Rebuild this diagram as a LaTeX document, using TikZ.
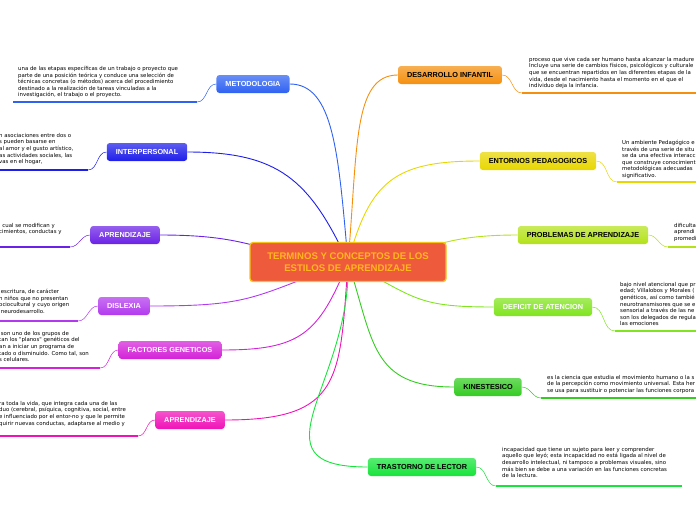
\documentclass[tikz,border=0pt]{standalone}
\usepackage{fontspec}
\setmainfont{Liberation Sans}
\newfontfamily\notefont{DejaVu Sans}
\usetikzlibrary{positioning}
\definecolor{hubfill}{HTML}{EE5A3C}
\definecolor{hubline}{HTML}{F7C21A}
\definecolor{hubtext}{HTML}{FFB81C}
\definecolor{metodblue}{HTML}{2F62F2}
\definecolor{interblue}{HTML}{1E1EEA}
\definecolor{aprendviolet}{HTML}{6B22E6}
\definecolor{dislexpurple}{HTML}{B23AEE}
\definecolor{factormagenta}{HTML}{D422D8}
\definecolor{aprendpink}{HTML}{F012B8}
\definecolor{desarrorange}{HTML}{F5900F}
\definecolor{entornyellow}{HTML}{E8D600}
\definecolor{problemlime}{HTML}{B4E21A}
\definecolor{deficitgreen}{HTML}{80E41E}
\definecolor{kinesgreen}{HTML}{34CC22}
\definecolor{trastgreen}{HTML}{16E43A}
\pgfdeclarelayer{background}
\pgfsetlayers{background,main}

\begin{document}
\begin{tikzpicture}[x=1pt,y=-1pt,
  branch/.style={rounded corners=3pt, minimum height=18pt, inner xsep=9pt, inner ysep=0pt,
    top color=#1!72!white, bottom color=#1, font=\fontsize{7.3}{8}\selectfont\bfseries, text=white},
  hubnode/.style={rounded corners=3pt, fill=hubfill, draw=hubline, line width=1.3pt,
    minimum width=196pt, minimum height=39pt, align=center, text=hubtext,
    font=\fontsize{9.6}{11.5}\selectfont\bfseries},
  note/.style={anchor=north west, align=left, inner sep=0pt,
    font=\notefont\fontsize{5.4}{6.6}\selectfont},
  link/.style={line width=0.9pt, looseness=1.3},
  uline/.style={line width=2.4pt},
  tail/.style={line width=0.5pt}]
\useasboundingbox (0,0) rectangle (696,520);

% centre
\node (hub) [hubnode] at (348,262) {TERMINOS Y CONCEPTOS DE LOS\\ESTILOS DE APRENDIZAJE};

% left branches
\node (metod) [branch=metodblue] at (253,84) {METODOLOGIA};
\node (inter) [branch=interblue] at (147,152) {INTERPERSONAL};
\node (aprendA) [branch=aprendviolet] at (125,235) {APRENDIZAJE};
\node (dislex) [branch=dislexpurple] at (124,306) {DISLEXIA};
\node (factor) [branch=factormagenta] at (170,350) {FACTORES GENETICOS};
\node (aprendB) [branch=aprendpink] at (190,420) {APRENDIZAJE};

% right branches
\node (desarr) [branch=desarrorange, text=black] at (450,75) {DESARROLLO INFANTIL};
\node (entorn) [branch=entornyellow, text=black] at (538,161) {ENTORNOS PEDAGOGICOS};
\node (problem) [branch=problemlime, text=black] at (583,235) {PROBLEMAS DE APRENDIZAJE};
\node (deficit) [branch=deficitgreen] at (543,307) {DEFICIT DE ATENCION};
\node (kines) [branch=kinesgreen, text=black] at (488,387) {KINESTESICO};
\node (trast) [branch=trastgreen, text=black] at (422,467) {TRASTORNO DE LECTOR};

% notes
\node (metodtxt) [note] at (18,66) {una de las etapas específicas de un trabajo o proyecto que\\parte de una posición teórica y conduce una selección de\\técnicas concretas (o métodos) acerca del procedimiento\\destinado a la realización de tareas vinculadas a la\\investigación, el trabajo o el proyecto.};
\node (intertxt) [note] at (-1,133) {n asociaciones entre dos o\\s pueden basarse en\\al amor y el gusto artístico,\\as actividades sociales, las\\vas en el hogar,};
\node (aprendAtxt) [note] at (-1,223) {l cual se modifican y\\cimientos, conductas y};
\node (dislextxt) [note] at (-1,289) {\ escritura, de carácter\\n niños que no presentan\\ociocultural y cuyo origen\\\ neurodesarrollo.};
\node (factortxt) [note] at (-1,331) {\ son uno de los grupos de\\tan los "planos" genéticos del\\an a iniciar un programa de\\tado o disminuido. Como tal, son\\s celulares.};
\node (aprendBtxt) [note] at (-1,401) {ra toda la vida, que integra cada una de las\\duo (cerebral, psíquica, cognitiva, social, entre\\e influenciado por el entor-no y que le permite\\quirir nuevas conductas, adaptarse al medio y};
\node (desarrtxt) [note] at (529,57) {proceso que vive cada ser humano hasta alcanzar la madure\\Incluye una serie de cambios físicos, psicológicos y culturale\\que se encuentran repartidos en las diferentes etapas de la\\vida, desde el nacimiento hasta el momento en el que el\\individuo deja la infancia.};
\node (entorntxt) [note] at (622,140) {Un ambiente Pedagógico e\\través de una serie de situ\\se da una efectiva interacc\\que construye conocimient\\metodológicas adecuadas\\significativo.};
\node (problemtxt) [note] at (674,223) {dificulta\\aprendi\\promedi};
\node (deficittxt) [note] at (620,282) {bajo nivel atencional que pr\\edad; Villalobos y Morales (\\genéticos, así como tambié\\neurotransmisores que se e\\sensorial a través de las ne\\son los delegados de regula\\las emociones};
\node (kinestxt) [note] at (547,375) {es la ciencia que estudia el movimiento humano o la s\\de la percepción como movimiento universal. Esta her\\se usa para sustituir o potenciar las funciones corpora};
\node (trasttxt) [note] at (502,447) {incapacidad que tiene un sujeto para leer y comprender\\aquello que leyó; esta incapacidad no está ligada al nivel de\\desarrollo intelectual, ni tampoco a problemas visuales, sino\\más bien se debe a una variación en las funciones concretas\\de la lectura.};

% underline ends
\coordinate (metodu) at (197,102);
\coordinate (interu) at (88,170);
\coordinate (aprendAu) at (70,247);
\coordinate (dislexu) at (78,321);
\coordinate (factoru) at (100,368);
\coordinate (aprendBu) at (138,436);
\coordinate (desarru) at (522,93);
\coordinate (entornu) at (617,182);
\coordinate (problemu) at (668,247);
\coordinate (deficitu) at (615,331);
\coordinate (kinesu) at (541,398);
\coordinate (trastu) at (496,486);

\begin{pgfonlayer}{background}
% centre to branches
\draw[link, metodblue] (hub.center) to[out=95, in=0, out looseness=1.5, in looseness=0.6] (metod.east);
\draw[link, interblue] (hub.center) to[out=115, in=0, looseness=1.2] (inter.east);
\draw[link, aprendviolet] (hub.center) to[out=175, in=0] (aprendA.east);
\draw[link, dislexpurple] (hub.center) to[out=200, in=0] (dislex.east);
\draw[link, factormagenta] (hub.center) to[out=248, in=0] (factor.east);
\draw[link, aprendpink] (hub.center) to[out=266, in=0, looseness=1.5] (aprendB.east);
\draw[link, desarrorange] (hub.center) to[out=85, in=180, out looseness=1.5, in looseness=0.6] (desarr.west);
\draw[link, entornyellow] (hub.center) to[out=75, in=180] (entorn.west);
\draw[link, problemlime] (hub.center) to[out=5, in=180] (problem.west);
\draw[link, deficitgreen] (hub.center) to[out=-28, in=180] (deficit.west);
\draw[link, kinesgreen] (hub.center) to[out=-72, in=180] (kines.west);
\draw[link, trastgreen] (hub.center) to[out=-88, in=180, looseness=1.5] (trast.west);
\end{pgfonlayer}

% branches to notes
\draw[tail, metodblue] (metod.west) to[out=180, in=0] (metodu);
\draw[tail, interblue] (inter.west) to[out=180, in=0] (interu);
\draw[tail, aprendviolet] (aprendA.west) to[out=180, in=0] (aprendAu);
\draw[tail, dislexpurple] (dislex.west) to[out=180, in=0] (dislexu);
\draw[tail, factormagenta] (factor.west) to[out=180, in=0] (factoru);
\draw[tail, aprendpink] (aprendB.west) to[out=180, in=0] (aprendBu);
\draw[tail, desarrorange] (desarr.east) to[out=0, in=180] (desarru);
\draw[tail, entornyellow] (entorn.east) to[out=0, in=180] (entornu);
\draw[tail, problemlime] (problem.east) to[out=0, in=180] (problemu);
\draw[tail, deficitgreen] (deficit.east) to[out=0, in=180] (deficitu);
\draw[tail, kinesgreen] (kines.east) to[out=0, in=180] (kinesu);
\draw[tail, trastgreen] (trast.east) to[out=0, in=180] (trastu);

% underlines
\draw[uline, metodblue] (13,102) -- (metodu);
\draw[uline, interblue] (-2,170) -- (interu);
\draw[uline, aprendviolet] (-2,247) -- (aprendAu);
\draw[uline, dislexpurple] (-2,321) -- (dislexu);
\draw[uline, factormagenta] (-2,368) -- (factoru);
\draw[uline, aprendpink] (-2,436) -- (aprendBu);
\draw[uline, desarrorange] (desarru) -- (700,93);
\draw[uline, entornyellow] (entornu) -- (700,182);
\draw[uline, problemlime] (problemu) -- (700,247);
\draw[uline, deficitgreen] (deficitu) -- (700,331);
\draw[uline, kinesgreen] (kinesu) -- (700,398);
\draw[uline, trastgreen] (trastu) -- (682,486);
\end{tikzpicture}
\end{document}
